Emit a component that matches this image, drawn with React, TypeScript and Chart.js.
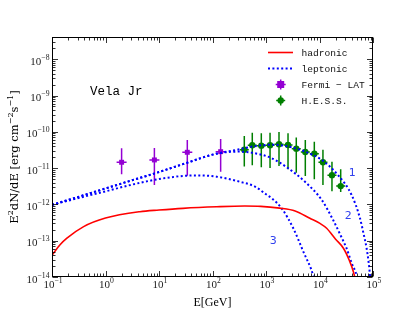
import { useEffect, useRef } from 'react';
import { Chart, registerables } from 'chart.js';

Chart.register(...registerables);

// ---- model curves (E in GeV, E^2 dN/dE in erg cm^-2 s^-1) ----
const hadronicE = [0.1, 0.14, 0.19, 0.39, 1, 4.4, 10, 28, 120, 400, 800, 1800, 3500, 6600, 10200, 13600, 20000, 28000, 36000, 43000, 48000];
const hadronicF = [4.0e-14, 7.6e-14, 1.17e-13, 2.44e-13, 4.2e-13, 6.3e-13, 7.0e-13, 7.8e-13, 8.6e-13, 9.0e-13, 8.85e-13, 7.9e-13, 6.6e-13, 4.15e-13, 3.0e-13, 2.2e-13, 1.1e-13, 6.2e-14, 2.9e-14, 1.4e-14, 7e-15];

const lep1E = [0.1, 0.3, 1, 3, 10, 30, 100, 300, 600, 1000, 1500, 2600, 5400, 11000, 22000, 40000, 57000, 67000, 76000, 83000, 88000, 95000];
const lep1F = [9.7e-13, 1.59e-12, 2.75e-12, 4.53e-12, 7.8e-12, 1.33e-11, 2.35e-11, 3.25e-11, 4.0e-11, 4.35e-11, 4.4e-11, 3.95e-11, 2.85e-11, 1.68e-11, 6.5e-12, 1.8e-12, 4.2e-13, 1.5e-13, 6.2e-14, 2.5e-14, 1.1e-14, 3e-15];

const lep2E = [0.1, 0.3, 1, 3, 10, 30, 100, 180, 327, 622, 1280, 2600, 5360, 11000, 18000, 25000, 32000, 40000, 49500, 55000];
const lep2F = [9.7e-13, 1.59e-12, 2.75e-12, 4.53e-12, 7.8e-12, 1.33e-11, 2.35e-11, 2.75e-11, 2.85e-11, 2.57e-11, 1.87e-11, 9.9e-12, 4.2e-12, 1.33e-12, 3.7e-13, 1.37e-13, 6.2e-14, 2.4e-14, 1.1e-14, 5e-15];

const lep3E = [0.1, 0.3, 1, 3, 6.8, 10, 28.5, 58, 120, 327, 622, 1000, 1280, 1963, 3236, 4980, 7650, 9000];
const lep3F = [9.7e-13, 1.48e-12, 2.29e-12, 3.46e-12, 4.5e-12, 5.0e-12, 6.1e-12, 6.3e-12, 5.8e-12, 4.2e-12, 3.1e-12, 1.9e-12, 1.48e-12, 7.8e-13, 2.2e-13, 5e-14, 1.1e-14, 4e-15];

// ---- data points ----
const fermiE = [2.0, 8.2, 33.8, 142];
const fermiF = [1.45e-11, 1.68e-11, 2.73e-11, 2.84e-11];
const fermiUp = [3.5e-11, 3.6e-11, 6.0e-11, 6.3e-11];
const fermiLow = [6.8e-12, 3.4e-12, 6.2e-12, 7.9e-12];

const hessE = [393, 554, 817, 1190, 1750, 2580, 3680, 5430, 8000, 11600, 17100, 24900];
const hessF = [3.23e-11, 4.27e-11, 4.16e-11, 4.27e-11, 4.55e-11, 4.35e-11, 3.44e-11, 2.79e-11, 2.5e-11, 1.45e-11, 6.4e-12, 3.2e-12];
const hessUp = [7.7e-11, 9.5e-11, 9.1e-11, 9.5e-11, 9.9e-11, 9.1e-11, 7.0e-11, 6.0e-11, 5.3e-11, 3.2e-11, 1.5e-11, 9.3e-12];
const hessLow = [1.1e-11, 1.2e-11, 1.06e-11, 1.0e-11, 1.15e-11, 9.3e-12, 7.5e-12, 6.1e-12, 4.9e-12, 3.4e-12, 2.3e-12, 2.2e-12];

// ---- axes ----
const xTickExps = [-1, 0, 1, 2, 3, 4, 5];
const yTickExps = [-14, -13, -12, -11, -10, -9, -8];
const xMin = 0.1;
const xMax = 1e5;
const yMin = 1e-14;
const yMax = 4.1e-8;

// ---- annotations ----
const curveLabels = ['1', '2', '3'];
const curveLabelE = [41000, 34500, 1370];
const curveLabelF = [7.2e-12, 4.9e-13, 9.8e-14];
const legendLabels = ['hadronic', 'leptonic', 'Fermi \u2212 LAT', 'H.E.S.S.'];
const sourceName = 'Vela Jr';
const xTitle = 'E[GeV]';

const RED = '#ff0000';
const BLUE = '#0000ff';
const PURPLE = '#9400d3';
const GREEN = '#007f00';

export default function App() {
  const ref = useRef<HTMLCanvasElement>(null);

  useEffect(() => {
    const canvas = ref.current;
    if (!canvas) return;
    const pts = (xs: number[], ys: number[]) => xs.map((x, i) => ({ x, y: ys[i] }));

    const errData: Record<number, { up: number[]; low: number[]; half: number; color: string }> = {
      4: { up: fermiUp, low: fermiLow, half: 5, color: PURPLE },
      5: { up: hessUp, low: hessLow, half: 4.5, color: GREEN },
    };

    const errorBars = {
      id: 'errorBars',
      beforeDatasetDraw(chart: any, args: any) {
        const e = errData[args.index];
        if (!e) return;
        const meta = chart.getDatasetMeta(args.index);
        const { ctx, chartArea: a, scales } = chart;
        const y = scales.y;
        ctx.save();
        ctx.beginPath();
        ctx.rect(a.left, a.top, a.right - a.left, a.bottom - a.top);
        ctx.clip();
        ctx.strokeStyle = e.color;
        ctx.lineWidth = 1.5;
        meta.data.forEach((p: any, i: number) => {
          const yu = y.getPixelForValue(e.up[i]);
          const yl = y.getPixelForValue(e.low[i]);
          ctx.beginPath();
          ctx.moveTo(p.x, yu);
          ctx.lineTo(p.x, yl);
          ctx.moveTo(p.x - e.half, p.y);
          ctx.lineTo(p.x + e.half, p.y);
          ctx.stroke();
        });
        ctx.restore();
      },
    };

    const drawPow = (ctx: CanvasRenderingContext2D, exp: number, xPos: number, yBase: number, align: 'center' | 'right', baseFont: string, expFont: string, rise: number) => {
      const base = '10';
      const es = exp < 0 ? '\u2212' + Math.abs(exp) : String(exp);
      ctx.font = baseFont;
      const wb = ctx.measureText(base).width;
      ctx.font = expFont;
      const we = ctx.measureText(es).width;
      const total = wb + we;
      const start = align === 'center' ? xPos - total / 2 : xPos - total;
      ctx.textAlign = 'left';
      ctx.textBaseline = 'alphabetic';
      ctx.font = baseFont;
      ctx.fillText(base, start, yBase);
      ctx.font = expFont;
      ctx.fillText(es, start + wb, yBase - rise);
    };

    const decor = {
      id: 'decor',
      afterDraw(chart: any) {
        const { ctx, chartArea: a, scales } = chart;
        const x = scales.x;
        const y = scales.y;
        ctx.save();
        // frame
        ctx.strokeStyle = '#000';
        ctx.lineWidth = 1;
        const L = Math.round(a.left) + 0.5;
        const R = Math.round(a.right) - 0.5;
        const T = Math.round(a.top) + 0.5;
        const B = Math.round(a.bottom) - 0.5;
        ctx.strokeRect(L, T, R - L, B - T);
        // x ticks
        ctx.lineWidth = 0.8;
        ctx.beginPath();
        for (let e = -1; e <= 5; e++) {
          for (let m = 1; m <= 9; m++) {
            const v = m * Math.pow(10, e);
            if (v < xMin || v > xMax) continue;
            const px = Math.round(x.getPixelForValue(v)) + 0.5;
            const len = m === 1 ? 5.5 : 3;
            ctx.moveTo(px, B);
            ctx.lineTo(px, B - len);
            ctx.moveTo(px, T);
            ctx.lineTo(px, T + len);
          }
        }
        for (let e = -14; e <= -8; e++) {
          for (let m = 1; m <= 9; m++) {
            const v = m * Math.pow(10, e);
            if (v < yMin || v > yMax) continue;
            const py = Math.round(y.getPixelForValue(v)) + 0.5;
            const len = m === 1 ? 5.5 : 3;
            ctx.moveTo(L, py);
            ctx.lineTo(L + len, py);
            ctx.moveTo(R, py);
            ctx.lineTo(R - len, py);
          }
        }
        ctx.stroke();
        // tick labels
        ctx.fillStyle = '#222';
        const bf = '11px "Liberation Serif"';
        const ef = '7.7px "Liberation Serif"';
        xTickExps.forEach((e) => {
          const px = x.getPixelForValue(Math.pow(10, e));
          drawPow(ctx, e, px + 1, 288, 'center', bf, ef, 5);
        });
        yTickExps.forEach((e) => {
          const py = y.getPixelForValue(Math.pow(10, e));
          drawPow(ctx, e, 49.5, py + 5.5, 'right', bf, ef, 5);
        });
        // x title
        ctx.fillStyle = '#000';
        ctx.font = '12px "Liberation Serif"';
        ctx.textAlign = 'center';
        ctx.textBaseline = 'alphabetic';
        ctx.fillText(xTitle, (a.left + a.right) / 2, 306);
        // y title (rotated)
        ctx.save();
        ctx.translate(17.5, (a.top + a.bottom) / 2);
        ctx.rotate(-Math.PI / 2);
        const parts: [string, boolean][] = [
          ['E', false], ['2', true], ['dN/dE [erg cm', false], ['\u22122', true], ['s', false], ['\u22121', true], [']', false],
        ];
        const nf = '11.5px "DejaVu Serif"';
        const sf = '8px "DejaVu Serif"';
        let tw = 0;
        parts.forEach(([s, sup]) => {
          ctx.font = sup ? sf : nf;
          tw += ctx.measureText(s).width;
        });
        let cx = -tw / 2;
        ctx.textAlign = 'left';
        parts.forEach(([s, sup]) => {
          ctx.font = sup ? sf : nf;
          ctx.fillText(s, cx, sup ? -4.5 : 0);
          cx += ctx.measureText(s).width;
        });
        ctx.restore();

        // source name
        ctx.font = '12.5px "Liberation Mono"';
        ctx.textAlign = 'left';
        ctx.fillText(sourceName, 90, 95);

        // curve labels
        ctx.fillStyle = '#3040ee';
        ctx.font = '11px "DejaVu Sans"';
        ctx.textAlign = 'center';
        ctx.textBaseline = 'middle';
        curveLabels.forEach((t, i) => {
          ctx.fillText(t, x.getPixelForValue(curveLabelE[i]), y.getPixelForValue(curveLabelF[i]));
        });

        // legend
        const rows = [52.5, 68.5, 84.5, 100.5];
        const x0 = 268;
        const x1 = 293;
        const mx = 280.7;
        // hadronic
        ctx.strokeStyle = RED;
        ctx.lineWidth = 1.6;
        ctx.beginPath();
        ctx.moveTo(x0, rows[0]);
        ctx.lineTo(x1, rows[0]);
        ctx.stroke();
        // leptonic
        ctx.strokeStyle = BLUE;
        ctx.lineWidth = 2;
        ctx.setLineDash([2, 2.4]);
        ctx.beginPath();
        ctx.moveTo(x0, rows[1]);
        ctx.lineTo(x1, rows[1]);
        ctx.stroke();
        ctx.setLineDash([]);
        // Fermi
        ctx.strokeStyle = PURPLE;
        ctx.lineWidth = 1.5;
        ctx.beginPath();
        ctx.moveTo(mx - 5, rows[2]);
        ctx.lineTo(mx + 5, rows[2]);
        ctx.moveTo(mx, rows[2] - 5);
        ctx.lineTo(mx, rows[2] + 5);
        ctx.stroke();
        ctx.fillStyle = PURPLE;
        ctx.fillRect(mx - 3.5, rows[2] - 3.5, 7, 7);
        // HESS
        ctx.strokeStyle = GREEN;
        ctx.beginPath();
        ctx.moveTo(mx - 4.5, rows[3]);
        ctx.lineTo(mx + 4.5, rows[3]);
        ctx.moveTo(mx, rows[3] - 5);
        ctx.lineTo(mx, rows[3] + 5);
        ctx.stroke();
        ctx.fillStyle = GREEN;
        ctx.beginPath();
        ctx.arc(mx, rows[3], 3.2, 0, Math.PI * 2);
        ctx.fill();
        // legend text
        ctx.fillStyle = '#111';
        ctx.font = '9.6px "Liberation Mono"';
        ctx.textAlign = 'left';
        ctx.textBaseline = 'middle';
        legendLabels.forEach((t, i) => ctx.fillText(t, 301.5, rows[i] + 0.5));
        ctx.restore();
      },
    };

    const lineDs = (label: string, xs: number[], ys: number[], color: string, dotted: boolean) => ({
      label,
      data: pts(xs, ys),
      borderColor: color,
      backgroundColor: color,
      borderWidth: dotted ? 2 : 1.6,
      borderDash: dotted ? [2, 2.4] : [],
      pointRadius: 0,
      fill: false,
      cubicInterpolationMode: 'monotone' as const,
    });

    const chart = new Chart(canvas, {
      type: 'line',
      data: {
        datasets: [
          lineDs('hadronic', hadronicE, hadronicF, RED, false),
          lineDs('leptonic 1', lep1E, lep1F, BLUE, true),
          lineDs('leptonic 2', lep2E, lep2F, BLUE, true),
          lineDs('leptonic 3', lep3E, lep3F, BLUE, true),
          {
            label: 'Fermi-LAT',
            data: pts(fermiE, fermiF),
            showLine: false,
            pointStyle: 'rect',
            pointRadius: 3.5,
            pointBackgroundColor: PURPLE,
            pointBorderColor: PURPLE,
            pointBorderWidth: 0,
          } as any,
          {
            label: 'H.E.S.S.',
            data: pts(hessE, hessF),
            showLine: false,
            pointStyle: 'circle',
            pointRadius: 3.2,
            pointBackgroundColor: GREEN,
            pointBorderColor: GREEN,
            pointBorderWidth: 0,
          } as any,
        ],
      },
      options: {
        responsive: false,
        maintainAspectRatio: false,
        devicePixelRatio: 1,
        animation: false,
        events: [],
        layout: { padding: { top: 37, right: 42, left: 0, bottom: 0 } },
        elements: { line: { capBezierPoints: false } },
        plugins: { legend: { display: false }, tooltip: { enabled: false }, title: { display: false } },
        scales: {
          x: {
            type: 'logarithmic',
            min: xMin,
            max: xMax,
            grid: { display: false },
            border: { display: false },
            ticks: { display: false },
            afterFit: (s: any) => { s.height = 35; },
          },
          y: {
            type: 'logarithmic',
            min: yMin,
            max: yMax,
            grid: { display: false },
            border: { display: false },
            ticks: { display: false },
            afterFit: (s: any) => { s.width = 52; },
          },
        },
      } as any,
      plugins: [errorBars, decor],
    });

    return () => chart.destroy();
  }, []);

  return (
    <div style={{ position: 'absolute', left: 0, top: 0, width: 415, height: 312, background: '#fff' }}>
      <canvas ref={ref} width={415} height={312} style={{ display: 'block' }} />
    </div>
  );
}
